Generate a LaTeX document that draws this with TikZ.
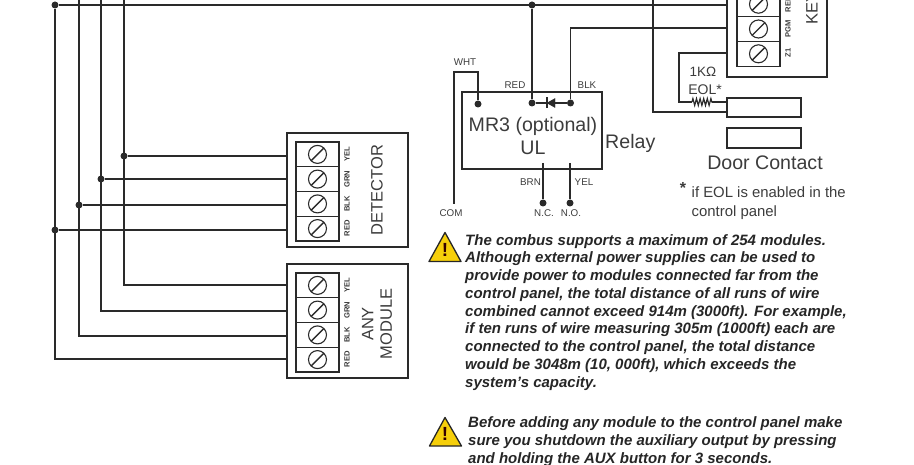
\documentclass[tikz,border=0pt]{standalone}
\usepackage{fontspec}
\setmainfont{Liberation Sans}
\usepackage{xcolor}
\usetikzlibrary{calc}
\usetikzlibrary{decorations.pathmorphing}
\definecolor{wirecol}{HTML}{2A2A2A}
\definecolor{labelcol}{HTML}{3C3C3C}
\definecolor{warncol}{HTML}{F6CF0A}
\tikzset{
  wire/.style={color=wirecol,line width=1.9},
  thinbox/.style={draw=wirecol,line width=1.4,inner sep=0,outer sep=0},
  termcell/.style={thinbox,line width=1.1,minimum width=43,minimum height=24.75},
  jdot/.style={circle,fill=wirecol,inner sep=0,minimum size=7},
  screw/.style={circle,draw=wirecol,line width=1.1,inner sep=0,minimum size=18,
    path picture={\draw[wirecol,line width=1.4] ($(path picture bounding box.south west)+(2,-2)$) -- ($(path picture bounding box.north east)+(-2,2)$);}},
  tinylabel/.style={color=labelcol,font=\fontsize{7.6}{8}\selectfont\bfseries,rotate=90,inner sep=0},
  wirelabel/.style={color=labelcol,font=\fontsize{9.8}{10}\selectfont,inner sep=0},
  bigtext/.style={color=labelcol,font=\fontsize{19.6}{22}\selectfont,inner sep=0},
  boxtext/.style={color=labelcol,font=\fontsize{16.5}{18}\selectfont,rotate=90,inner sep=0,align=center},
  warntext/.style={color=black!85,font=\fontsize{15}{17.75}\selectfont\bfseries\itshape,inner sep=0,align=left,anchor=north west},
  warntri/.style={fill=warncol,draw=black!85,line width=1.3,line join=round},
}
\begin{document}
\begin{tikzpicture}[x=1pt,y=-1pt]
\useasboundingbox (0,0) rectangle (914,465);

% boxes
\node[thinbox,minimum width=121,minimum height=114] (detector) at (347.5,190) {};
\node[thinbox,minimum width=121,minimum height=114] (anymodule) at (347.5,321) {};
\node[thinbox,minimum width=100,minimum height=100,anchor=south west] (keypad) at (727,77) {};
\node[thinbox,minimum width=140,minimum height=77,anchor=north west] (relay) at (462,92) {};
\node[thinbox,minimum width=74,minimum height=19,anchor=north west] (contacta) at (727,98) {};
\node[thinbox,minimum width=74,minimum height=20,anchor=north west] (contactb) at (727,128) {};

% terminal cells
\node[termcell] (dcella) at (317.5,154.4) {};
\node[termcell] (dcellb) at (317.5,179.1) {};
\node[termcell] (dcellc) at (317.5,203.9) {};
\node[termcell] (dcelld) at (317.5,228.6) {};
\node[termcell] (mcella) at (317.5,285.4) {};
\node[termcell] (mcellb) at (317.5,310.1) {};
\node[termcell] (mcellc) at (317.5,334.9) {};
\node[termcell] (mcelld) at (317.5,359.6) {};
\node[termcell] (kcella) at (758.5,4.2) {};
\node[termcell] (kcellb) at (758.5,29) {};
\node[termcell] (kcellc) at (758.5,53.8) {};

% screws
\node[screw] (dscrewa) at (dcella) {};
\node[screw] (dscrewb) at (dcellb) {};
\node[screw] (dscrewc) at (dcellc) {};
\node[screw] (dscrewd) at (dcelld) {};
\node[screw] (mscrewa) at (mcella) {};
\node[screw] (mscrewb) at (mcellb) {};
\node[screw] (mscrewc) at (mcellc) {};
\node[screw] (mscrewd) at (mcelld) {};
\node[screw] (kscrewa) at (kcella) {};
\node[screw] (kscrewb) at (kcellb) {};
\node[screw] (kscrewc) at (kcellc) {};

% terminal labels
\node[tinylabel] (dyel) at (347,154) {YEL};
\node[tinylabel] (dgrn) at (347,179) {GRN};
\node[tinylabel] (dblk) at (347,204) {BLK};
\node[tinylabel] (dred) at (347,228) {RED};
\node[tinylabel] (myel) at (347,285) {YEL};
\node[tinylabel] (mgrn) at (347,310) {GRN};
\node[tinylabel] (mblk) at (347,335) {BLK};
\node[tinylabel] (mred) at (347,359) {RED};
\node[tinylabel] (kred) at (788,4) {RED};
\node[tinylabel] (kpgm) at (788,29) {PGM};
\node[tinylabel] (kzone) at (788,53) {Z1};

\node[boxtext] (dettext) at (377,190) {DETECTOR};
\node[boxtext,font=\fontsize{16.5}{18.5}\selectfont] (modtext) at (377,324) {ANY\\MODULE};
\node[boxtext,anchor=west] (keytext) at (812,25) {KEY};

% bus
\coordinate (topblk) at (79,0);
\coordinate (topgrn) at (101,0);
\coordinate (topyel) at (124,0);
\coordinate (toppgm) at (653,0);
\coordinate (keybus) at (727,5);
\coordinate (keypgm) at (727,28);
\coordinate (keyzone) at (727,53);
\node[jdot] (busred) at (55,5) {};
\node[jdot] (busrelay) at (532,5) {};
\draw[wire] (busred) -- (keybus);

% drops to the modules
\coordinate (dend1) at (287,156);
\coordinate (dend2) at (287,179);
\coordinate (dend3) at (287,205);
\coordinate (dend4) at (287,230);
\coordinate (mend1) at (287,285);
\coordinate (mend2) at (287,311);
\coordinate (mend3) at (287,336);
\coordinate (mend4) at (287,359);
\node[jdot] (jyel) at (124,156) {};
\node[jdot] (jgrn) at (101,179) {};
\node[jdot] (jblk) at (79,205) {};
\node[jdot] (jred) at (55,230) {};
\draw[wire] (jyel) -- (dend1);
\draw[wire] (jgrn) -- (dend2);
\draw[wire] (jblk) -- (dend3);
\draw[wire] (jred) -- (dend4);
\draw[wire] (topyel) |- (mend1);
\draw[wire] (topgrn) |- (mend2);
\draw[wire] (topblk) |- (mend3);
\draw[wire] (busred) |- (mend4);

% relay
\node[jdot] (relwht) at (478,104) {};
\node[jdot] (relred) at (532,103) {};
\node[jdot] (relblk) at (570.5,103) {};
\node[jdot] (relnc) at (543,203) {};
\node[jdot] (relno) at (570,203) {};
\coordinate (relbrn) at (543,163);
\coordinate (relyel) at (570,163);
\coordinate (comend) at (454,204);
\coordinate (whtcorner) at (454,72);
\coordinate (diodea) at (547,103);
\coordinate (diodeb) at (555,103);
\draw[wire] (busrelay) -- (relred);
\draw[wire] (relred) -- (relblk);
\draw[wire] (keypgm) -| (relblk);
\draw[wire] (comend) -- (whtcorner) -| (relwht);
\draw[wire] (relbrn) -- (relnc);
\draw[wire] (relyel) -- (relno);
\draw[wirecol,fill=wirecol] (diodea) -- ($(diodeb)+(0,-4.5)$) -- ($(diodeb)+(0,4.5)$) --cycle;
\draw[wirecol,line width=1.5] ($(diodea)+(0,-5.5)$) -- ($(diodea)+(0,5.5)$);

% door contact
\coordinate (eolcorner) at (679,53);
\coordinate (resa) at (692,102);
\coordinate (resb) at (712,102);
\coordinate (conta) at (727,102);
\coordinate (contb) at (727,112);
\draw[wire] (keyzone) -- (eolcorner) |- (resa);
\draw[wirecol,line width=1.2,decorate,decoration={zigzag,segment length=3.6,amplitude=3.4}] (resa) -- (resb);
\draw[wire] (resb) -- (conta);
\draw[wire] (toppgm) |- (contb);

% text
\node[wirelabel] (whtlabel) at (465,62) {WHT};
\node[wirelabel] (redlabel) at (515,85.5) {RED};
\node[wirelabel] (blklabel) at (587,85.5) {BLK};
\node[wirelabel] (brnlabel) at (530.5,182) {BRN};
\node[wirelabel] (yellabel) at (584,182) {YEL};
\node[wirelabel] (comlabel) at (451,213.5) {COM};
\node[wirelabel] (nclabel) at (544,213.5) {N.C.};
\node[wirelabel] (nolabel) at (571,213.5) {N.O.};
\node[bigtext] (mrtext) at (533,126) {MR3 (optional)};
\node[bigtext] (ultext) at (533,148) {UL};
\node[bigtext,anchor=west] (relaytext) at (605,143) {Relay};
\node[bigtext] (doortext) at (765,163) {Door Contact};
\node[color=labelcol,font=\fontsize{13.5}{15}\selectfont,inner sep=0] (ohmtext) at (703,72) {1KΩ};
\node[color=labelcol,font=\fontsize{14}{15}\selectfont,inner sep=0] (eoltext) at (705,90) {EOL*};
\node[color=labelcol,font=\fontsize{16}{16}\selectfont\bfseries,inner sep=0] (startext) at (683,188) {*};
\node[color=labelcol,font=\fontsize{14.9}{19}\selectfont,inner sep=0,align=left,anchor=north west] (notetext) at (691.5,187) {if EOL is enabled in the\\control panel};

% warnings
\draw[warntri] (445,232.5) -- (461,261.5) -- (429,261.5) --cycle;
\draw[warntri] (445,417.5) -- (461.5,446) -- (429.5,446) --cycle;
\node[color=black!80!red,font=\fontsize{19}{20}\selectfont\bfseries,inner sep=0] (warnmarka) at (445,250) {!};
\node[color=black!80!red,font=\fontsize{19}{20}\selectfont\bfseries,inner sep=0] (warnmarkb) at (445,434) {!};
\node[warntext] (warna) at (465,234) {The combus supports a maximum of 254 modules.\\
Although external power supplies can be used to\\
provide power to modules connected far from the\\
control panel, the total distance of all runs of wire\\
combined cannot exceed 914m (3000ft). For example,\\
if ten runs of wire measuring 305m (1000ft) each are\\
connected to the control panel, the total distance\\
would be 3048m (10, 000ft), which exceeds the\\
system's capacity.};
\node[warntext] (warnb) at (468,416.5) {Before adding any module to the control panel make\\
sure you shutdown the auxiliary output by pressing\\
and holding the AUX button for 3 seconds.};

\end{tikzpicture}
\end{document}
